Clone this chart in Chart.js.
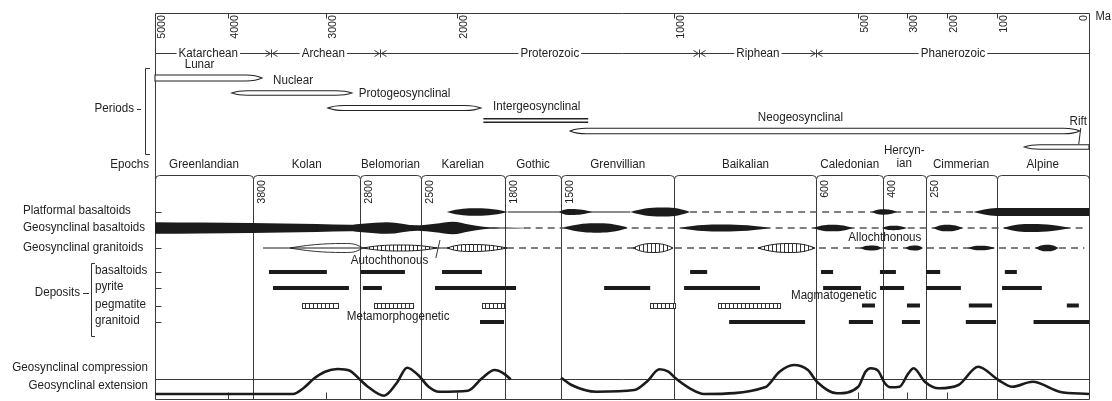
<!DOCTYPE html>
<html>
<head>
<meta charset="utf-8">
<script src="https://cdn.jsdelivr.net/npm/chart.js@4/dist/chart.umd.min.js"></script>
<style>
  html, body { margin: 0; padding: 0; background: #fff; }
  #wrap { width: 1112px; height: 401px; }
</style>
</head>
<body>
<div id="wrap"><canvas id="chart" width="1112" height="401"></canvas></div>
<script>
// ---- time axis (Ma) ----
const AXIS_TICKS = [5000, 4000, 3000, 2000, 1000, 500, 300, 200, 100, 0];

// eras along the top
const ERA_BOUNDS = [5000, 3600, 2700, 930, 600, 0];
const ERA_NAMES = ['Katarchean', 'Archean', 'Proterozoic', 'Riphean', 'Phanerozoic'];
const ERA_LABEL_MA = [4270, 3030, 1560, 765, 188];

// periods (spindles)
const PERIOD_NAMES = ['Lunar', 'Nuclear', 'Protogeosynclinal', 'Intergeosynclinal', 'Neogeosynclinal', 'Rift'];
const PERIOD_START = [5000, 3970, 2990, 1890, 1460, 70];
const PERIOD_END = [3700, 2850, 1900, 1380, 10, 0];
const PERIOD_LABEL_MA = [4390, 3360, 2580, 1630, 645, 10];

// epochs
const EPOCH_BOUNDS = [5000, 3800, 2800, 2500, 1800, 1500, 1000, 600, 400, 250, 100, 0];
const EPOCH_NAMES = ['Greenlandian', 'Kolan', 'Belomorian', 'Karelian', 'Gothic', 'Grenvillian',
  'Baikalian', 'Caledonian', ['Hercyn-', 'ian'], 'Cimmerian', 'Alpine'];
const BOUND_LABELS = ['3800', '2800', '2500', '1800', '1500', '', '600', '400', '250', ''];

// magmatism: lenses [start, peak, end, intensity]
const PLAT_LENSES = [[2140, 1925, 1785, 7.5], [1510, 1460, 1363, 6], [1195, 1050, 956, 9], [444, 400, 342, 5.3]];
const PLAT_BAND_MA = [147, 125, 100, 0];
const PLAT_BAND_W = [0, 5, 8, 8];
const GEO_BAND_MA = [5000, 4380, 3820, 3100, 2861, 2790, 2667, 2517, 2300, 2055, 1950, 1890, 1790, 1700];
const GEO_BAND_W = [11.7, 11, 10, 8, 6.5, 8.5, 11.7, 5.3, 8.5, 12.7, 7, 2.7, 1.2, 0.6];
const GEO_LENSES = [[1491, 1341, 1205, 9.3], [984, 872, 731, 7], [609, 563, 512, 6.7],
  [404, 358, 300, 4.3], [232, 200, 168, 6.7], [93, 64, 20, 8]];
const GRAN_OPEN = [[3394, 2880, 2788, 9]];
const GRAN_HATCHED = [[2788, 2602, 2274, 6], [2137, 1946, 1789, 7], [1182, 1094, 1006, 9], [765, 674, 604, 9]];
const GRAN_LENSES = [[492, 444, 404, 5], [308, 278, 257, 5], [158, 133, 103, 4.5], [58, 45, 33, 6.7]];

// deposits [from, to] in Ma
const DEP_BASALT = [[3625, 2995], [2800, 2578], [2205, 1896], [956, 908], [589, 560], [412, 346], [249, 216], [91, 78]];
const DEP_PYRITE = [[3581, 2867], [2788, 2693], [2301, 1741], [1310, 1107], [973, 759], [584, 488], [412, 312], [249, 172], [94, 51]];
const DEP_PEGMA_META = [[3263, 2930], [2733, 2538], [1896, 1804], [1107, 999], [877, 702]];
const DEP_PEGMA = [[484, 432], [300, 265], [156, 109], [24, 11]];
const DEP_GRANIT = [[1904, 1804], [846, 632], [522, 440], [321, 265], [162, 101], [60, 0]];

// compression (+) / extension (-)
const CURVE1_MA = [5000, 3362, 3245, 3128, 3011, 2933, 2861, 2820, 2763, 2682, 2620, 2567, 2512, 2389, 2247, 1954, 1896, 1843, 1806, 1769];
const CURVE1_LEVEL = [-15, -15, -9, 0.7, 7.3, 10, 8.3, 2.3, -7.7, -16.7, -4.3, 11.3, 4, -7.7, -12.7, -11.7, 0.7, 9, 5.7, -0.3];
const CURVE2_MA = [1500, 1454, 1343, 1177, 1122, 1066, 1027, 997, 957, 917, 745, 704, 664, 624, 599, 551, 499,
  470, 449, 420, 392, 369, 331, 296, 282, 252, 219, 177, 137, 98, 83, 61, 32, 0];
const CURVE2_LEVEL = [1.3, -6, -12.7, -11, -2.7, 9.7, 7.3, 0.7, -9.3, -15, -8.3, 7.3, 14, 9, -2.7, -14.3, -7.7,
  7.3, 10.7, 8.3, -4.3, -8.3, -7.7, 5.7, 10.7, -2.7, -9.3, -6, 12.3, -1, -7.7, -2.7, -12.7, -15];

// ---- layout / style ----
const ROW = {
  top: 13, bottom: 399, era: 53, tickLab: 15,
  period: [78, 93, 108, 120.5, 131, 147], periodH: [3, 2.2, 2.5, 1.8, 2.8, 2.2],
  periodLab: [65, 81, 94, 107, 118, 122],
  epochLab: 165, epochLine: 175, boundLab: 180,
  plat: 212, geoB: 228, geoG: 248,
  dB: 272, dPy: 288, dPeg: 305.5, dGr: 322,
  neutral: 379
};
const INK = '#1b1b1b';
const FRAME = '#3a3a3a';
const TEXT = '#222';
const FONT = '"Liberation Sans", Arial, sans-serif';
const SX = 0.93; // condensed look

// stretched geological time scale (schematic, not linear)
const STRETCH_MA = [5000, 4000, 3800, 3000, 2800, 2500, 2000, 1800, 1500, 1000, 600, 500, 400, 300, 250, 200, 100, 0];
const STRETCH_POS = [0, .0782, .1049, .1831, .2200, .2843, .3233, .3747, .4347, .5562, .7082, .7527, .7794, .8051, .8250, .8480, .9010, 1];

function maToDecimal(ma) {
  for (let i = 1; i < STRETCH_MA.length; i++) {
    if (ma >= STRETCH_MA[i] || i === STRETCH_MA.length - 1) {
      const a = STRETCH_MA[i - 1], b = STRETCH_MA[i];
      return STRETCH_POS[i - 1] + (a - ma) / (a - b) * (STRETCH_POS[i] - STRETCH_POS[i - 1]);
    }
  }
}
function decimalToMa(d) {
  for (let i = 1; i < STRETCH_POS.length; i++) {
    if (d <= STRETCH_POS[i] || i === STRETCH_POS.length - 1) {
      const a = STRETCH_POS[i - 1], b = STRETCH_POS[i];
      return STRETCH_MA[i - 1] - (d - a) / (b - a) * (STRETCH_MA[i - 1] - STRETCH_MA[i]);
    }
  }
}

class GeoTimeScale extends Chart.LinearScale {
  getPixelForValue(value) { return this.getPixelForDecimal(maToDecimal(value)); }
  getValueForPixel(pixel) { return decimalToMa(this.getDecimalForPixel(pixel)); }
}
GeoTimeScale.id = 'geotime';
Chart.register(GeoTimeScale);

// ---- datasets ----
function segs(pairs, row) {
  const out = [];
  pairs.forEach(([a, b]) => out.push({ x: a, y: row }, { x: b, y: row }, { x: b, y: null }));
  return out;
}
function lineDs(data, width, dash, color) {
  return {
    data, borderColor: color || INK, borderWidth: width, borderDash: dash || [],
    borderCapStyle: 'butt', pointRadius: 0, fill: false, spanGaps: false, tension: 0
  };
}
function bandDs(ma, w, row) {
  const clear = 'rgba(0,0,0,0)';
  return [
    { data: ma.map((m, i) => ({ x: m, y: row - w[i] / 2 })), borderColor: clear, borderWidth: 0,
      pointRadius: 0, fill: false, cubicInterpolationMode: 'monotone' },
    { data: ma.map((m, i) => ({ x: m, y: row + w[i] / 2 })), borderColor: clear, borderWidth: 0,
      pointRadius: 0, fill: '-1', backgroundColor: INK, cubicInterpolationMode: 'monotone' }
  ];
}
function curveDs(ma, level) {
  return {
    data: ma.map((m, i) => ({ x: m, y: ROW.neutral - level[i] })),
    borderColor: INK, borderWidth: 2.6, pointRadius: 0, fill: false,
    cubicInterpolationMode: 'monotone', borderJoinStyle: 'round'
  };
}

const datasets = [
  ...bandDs(GEO_BAND_MA, GEO_BAND_W, ROW.geoB),
  ...bandDs(PLAT_BAND_MA, PLAT_BAND_W, ROW.plat),
  lineDs(segs([[1785, 1195]], ROW.plat), 1.2),
  lineDs(segs([[956, 147]], ROW.plat), 1.3, [7, 5], '#555'),
  lineDs(segs([[1700, 5]], ROW.geoB), 1.3, [7, 5], '#555'),
  lineDs(segs([[3690, 1789]], ROW.geoG), 1),
  lineDs(segs([[1789, 5]], ROW.geoG), 1.3, [7, 5], '#555'),
  lineDs(segs(DEP_BASALT, ROW.dB), 4),
  lineDs(segs(DEP_PYRITE, ROW.dPy), 4),
  lineDs(segs(DEP_PEGMA, ROW.dPeg), 4),
  lineDs(segs(DEP_GRANIT, ROW.dGr), 4),
  curveDs(CURVE1_MA, CURVE1_LEVEL),
  curveDs(CURVE2_MA, CURVE2_LEVEL)
];

// ---- drawing helpers ----
const c = v => Math.round(v) + 0.5;
function text(ctx, str, x, y, align, size) {
  ctx.save();
  ctx.font = (size || 12.5) + 'px ' + FONT;
  ctx.textAlign = align || 'center';
  ctx.textBaseline = 'middle';
  ctx.fillStyle = TEXT;
  ctx.translate(x, y);
  ctx.scale(SX, 1);
  ctx.fillText(str, 0, 0);
  ctx.restore();
}
function vtext(ctx, str, x, yTop, size) {
  ctx.save();
  ctx.translate(x, yTop);
  ctx.rotate(-Math.PI / 2);
  ctx.scale(SX, 1);
  ctx.font = (size || 11.5) + 'px ' + FONT;
  ctx.textAlign = 'right';
  ctx.textBaseline = 'top';
  ctx.fillStyle = TEXT;
  ctx.fillText(str, 0, 0);
  ctx.restore();
}
function seg(ctx, x1, y1, x2, y2) {
  ctx.beginPath(); ctx.moveTo(x1, y1); ctx.lineTo(x2, y2); ctx.stroke();
}
function lensPath(ctx, xs, xp, xe, y, h) {
  const a = xp - xs, b = xe - xp;
  ctx.beginPath();
  ctx.moveTo(xs, y);
  ctx.bezierCurveTo(xs + a * 0.45, y - h, xp - a * 0.25, y - h, xp, y - h);
  ctx.bezierCurveTo(xp + b * 0.25, y - h, xe - b * 0.45, y - h, xe, y);
  ctx.bezierCurveTo(xe - b * 0.45, y + h, xp + b * 0.25, y + h, xp, y + h);
  ctx.bezierCurveTo(xp - a * 0.25, y + h, xs + a * 0.45, y + h, xs, y);
  ctx.closePath();
}
function spindlePath(ctx, xs, xe, y, h, flatLeft, flatRight) {
  const t = 16;
  ctx.beginPath();
  if (flatLeft) { ctx.moveTo(xs, y + h); ctx.lineTo(xs, y - h); }
  else { ctx.moveTo(xs, y); ctx.quadraticCurveTo(xs + t * 0.4, y - h, xs + t, y - h); }
  if (flatRight) { ctx.lineTo(xe, y - h); ctx.lineTo(xe, y + h); }
  else {
    ctx.lineTo(xe - t, y - h);
    ctx.quadraticCurveTo(xe - t * 0.4, y - h, xe, y);
    ctx.quadraticCurveTo(xe - t * 0.4, y + h, xe - t, y + h);
  }
  if (flatLeft) ctx.lineTo(xs, y + h);
  else { ctx.lineTo(xs + t, y + h); ctx.quadraticCurveTo(xs + t * 0.4, y + h, xs, y); }
  ctx.closePath();
}
function hatch(ctx, x1, x2, y1, y2) {
  for (let x = Math.round(x1) + 2.5; x < x2 - 1; x += 4) seg(ctx, x, y1, x, y2);
}

const decor = {
  id: 'decor',
  beforeDatasetsDraw(chart) {
    const ctx = chart.ctx;
    const X = m => chart.scales.x.getPixelForValue(m);
    const Y = v => chart.scales.y.getPixelForValue(v);
    const L = c(X(5000)), R = c(X(0)), T = c(Y(ROW.top)), B = c(Y(ROW.bottom));
    ctx.save();
    ctx.strokeStyle = FRAME;
    ctx.lineWidth = 1;

    // frame
    ctx.beginPath();
    ctx.moveTo(L, B); ctx.lineTo(L, T); ctx.lineTo(R, T); ctx.lineTo(R, B); ctx.lineTo(L, B);
    ctx.stroke();

    // time ticks, top and bottom
    AXIS_TICKS.forEach(t => {
      const x = c(X(t));
      if (t !== 5000 && t !== 0) {
        seg(ctx, x, T, x, T + 5);
        seg(ctx, x, B, x, B - 7);
      }
      const lx = t === 5000 ? L + 1 : t === 0 ? R - 11 : x + 1;
      vtext(ctx, String(t), lx, Y(ROW.tickLab), 11.5);
    });
    text(ctx, 'Ma', R + 6, Y(17), 'left', 12);

    // era line
    const ey = c(Y(ROW.era));
    seg(ctx, L, ey, R, ey);
    ERA_BOUNDS.slice(1, -1).forEach(b => {
      const x = c(X(b));
      seg(ctx, x, ey - 4, x, ey + 4);
      ctx.beginPath();
      ctx.moveTo(x - 6, ey - 3); ctx.lineTo(x - 1, ey); ctx.lineTo(x - 6, ey + 3);
      ctx.moveTo(x + 6, ey - 3); ctx.lineTo(x + 1, ey); ctx.lineTo(x + 6, ey + 3);
      ctx.stroke();
    });
    ERA_NAMES.forEach((name, i) => {
      ctx.font = '12.5px ' + FONT;
      const w = ctx.measureText(name).width * SX + 4;
      const x = X(ERA_LABEL_MA[i]);
      ctx.fillStyle = '#fff';
      ctx.fillRect(x - w / 2, ey - 6, w, 12);
      text(ctx, name, x, ey);
    });

    // epoch line with rounded corners and boundary verticals
    const py = c(Y(ROW.epochLine)), r = 4;
    for (let i = 0; i < EPOCH_BOUNDS.length - 1; i++) {
      const xa = c(X(EPOCH_BOUNDS[i])), xb = c(X(EPOCH_BOUNDS[i + 1]));
      ctx.beginPath();
      ctx.moveTo(xa, py + r);
      ctx.arcTo(xa, py, xa + r, py, r);
      ctx.lineTo(xb - r, py);
      ctx.arcTo(xb, py, xb, py + r, r);
      ctx.stroke();
    }
    EPOCH_BOUNDS.slice(1, -1).forEach((b, i) => {
      const x = c(X(b));
      seg(ctx, x, py + r, x, B);
      if (BOUND_LABELS[i]) vtext(ctx, BOUND_LABELS[i], x + 3, Y(ROW.boundLab), 11.5);
    });

    // neutral line of the tectonic regime
    seg(ctx, L, c(Y(ROW.neutral)), R, c(Y(ROW.neutral)));

    // row ticks on the left border
    [ROW.plat, ROW.geoG, ROW.dB, ROW.dPy, ROW.dPeg, ROW.dGr].forEach(v => {
      seg(ctx, L, c(Y(v)), L + 6, c(Y(v)));
    });
    ctx.restore();
  },

  afterDatasetsDraw(chart) {
    const ctx = chart.ctx;
    const X = m => chart.scales.x.getPixelForValue(m);
    const Y = v => chart.scales.y.getPixelForValue(v);
    ctx.save();
    ctx.strokeStyle = INK;
    ctx.fillStyle = INK;

    // solid lenses
    const solid = (list, row) => list.forEach(([s, p, e, w]) => {
      lensPath(ctx, X(s), X(p), X(e), Y(row), w / 2);
      ctx.fillStyle = INK; ctx.fill();
    });
    solid(PLAT_LENSES, ROW.plat);
    solid(GEO_LENSES, ROW.geoB);
    solid(GRAN_LENSES, ROW.geoG);

    // hatched (autochthonous) lenses
    ctx.lineWidth = 1;
    GRAN_HATCHED.forEach(([s, p, e, w]) => {
      const y = Y(ROW.geoG);
      lensPath(ctx, X(s), X(p), X(e), y, w / 2);
      ctx.fillStyle = '#fff'; ctx.fill();
      ctx.save(); ctx.clip();
      ctx.strokeStyle = '#333';
      hatch(ctx, X(s), X(e), y - w / 2, y + w / 2);
      ctx.restore();
      lensPath(ctx, X(s), X(p), X(e), y, w / 2);
      ctx.stroke();
    });
    GRAN_OPEN.forEach(([s, p, e, w]) => {
      lensPath(ctx, X(s), X(p), X(e), Y(ROW.geoG), w / 2);
      ctx.lineWidth = 0.9; ctx.stroke();
    });

    // hatched pegmatite bars
    DEP_PEGMA_META.forEach(([a, b]) => {
      const x1 = Math.round(X(a)) + 0.5, x2 = Math.round(X(b)) + 0.5, y = Y(ROW.dPeg);
      ctx.fillStyle = '#fff';
      ctx.fillRect(x1, y - 2.5, x2 - x1, 5);
      ctx.lineWidth = 1; ctx.strokeStyle = '#333';
      ctx.strokeRect(x1, Math.round(y - 2.5) + 0.5, x2 - x1, 5);
      hatch(ctx, x1, x2, y - 2.5, y + 2.5);
    });

    // periods
    ctx.strokeStyle = '#222';
    PERIOD_NAMES.forEach((name, i) => {
      const xs = X(PERIOD_START[i]), xe = X(PERIOD_END[i]), y = Y(ROW.period[i]), h = ROW.periodH[i];
      if (name === 'Intergeosynclinal') {
        ctx.lineWidth = 1.4;
        seg(ctx, xs, y - h, xe, y - h);
        seg(ctx, xs, y + h, xe, y + h);
      } else {
        spindlePath(ctx, xs, xe, y, h, PERIOD_START[i] === 5000, PERIOD_END[i] === 0);
        ctx.fillStyle = '#fff'; ctx.fill();
        ctx.lineWidth = 1.1; ctx.stroke();
      }
      const align = name === 'Rift' ? 'right' : 'center';
      const lx = name === 'Rift' ? X(0) - 2 : X(PERIOD_LABEL_MA[i]);
      text(ctx, name, lx, Y(ROW.periodLab[i]), align);
    });
    ctx.lineWidth = 1;
    seg(ctx, X(PERIOD_LABEL_MA[5]) + 1, Y(128), X(PERIOD_LABEL_MA[5]) - 1, Y(144));

    // epoch names
    EPOCH_NAMES.forEach((name, i) => {
      const x = (X(EPOCH_BOUNDS[i]) + X(EPOCH_BOUNDS[i + 1])) / 2;
      if (Array.isArray(name)) {
        text(ctx, name[0], x, Y(ROW.epochLab - 14));
        text(ctx, name[1], x, Y(ROW.epochLab - 1));
      } else {
        text(ctx, name, x, Y(ROW.epochLab));
      }
    });

    // annotations inside the plot
    text(ctx, 'Autochthonous', X(2655), Y(261));
    ctx.strokeStyle = '#333';
    seg(ctx, X(2290), Y(258), X(2233), Y(240));
    text(ctx, 'Allochthonous', X(392), Y(238));
    text(ctx, 'Metamorphogenetic', X(2612), Y(317));
    text(ctx, 'Magmatogenetic', X(558), Y(296));

    // left-hand labels
    text(ctx, 'Periods', 134, Y(109), 'right');
    seg(ctx, 137, c(Y(109)), 141, c(Y(109)));
    ctx.beginPath();
    ctx.moveTo(150, c(Y(68))); ctx.lineTo(c(145), c(Y(68))); ctx.lineTo(c(145), c(Y(154))); ctx.lineTo(150, c(Y(154)));
    ctx.stroke();
    text(ctx, 'Epochs', 149, Y(ROW.epochLab), 'right');
    text(ctx, 'Platformal basaltoids', 23, Y(ROW.plat - 1), 'left');
    text(ctx, 'Geosynclinal basaltoids', 23, Y(ROW.geoB), 'left');
    text(ctx, 'Geosynclinal granitoids', 23, Y(ROW.geoG), 'left');
    text(ctx, 'Deposits', 80, Y(293), 'right');
    seg(ctx, 83, c(Y(293)), 89, c(Y(293)));
    ctx.beginPath();
    ctx.moveTo(95, c(Y(263))); ctx.lineTo(c(91), c(Y(263))); ctx.lineTo(c(91), c(Y(336))); ctx.lineTo(95, c(Y(336)));
    ctx.stroke();
    text(ctx, 'basaltoids', 95, Y(ROW.dB - 1), 'left');
    text(ctx, 'pyrite', 95, Y(ROW.dPy - 1), 'left');
    text(ctx, 'pegmatite', 95, Y(ROW.dPeg - 0.5), 'left');
    text(ctx, 'granitoid', 95, Y(ROW.dGr - 1), 'left');
    text(ctx, 'Geosynclinal compression', 148, Y(368), 'right');
    text(ctx, 'Geosynclinal extension', 148, Y(386), 'right');
    ctx.restore();
  }
};

new Chart(document.getElementById('chart'), {
  type: 'line',
  data: { datasets },
  options: {
    responsive: false,
    animation: false,
    events: [],
    layout: { padding: { left: 155, right: 23, top: 0, bottom: 0 } },
    scales: {
      x: { type: 'geotime', min: 0, max: 5000, display: false },
      y: { type: 'linear', min: 0, max: 401, reverse: true, display: false }
    },
    plugins: { legend: { display: false }, tooltip: { enabled: false } }
  },
  plugins: [decor]
});
</script>
</body>
</html>
